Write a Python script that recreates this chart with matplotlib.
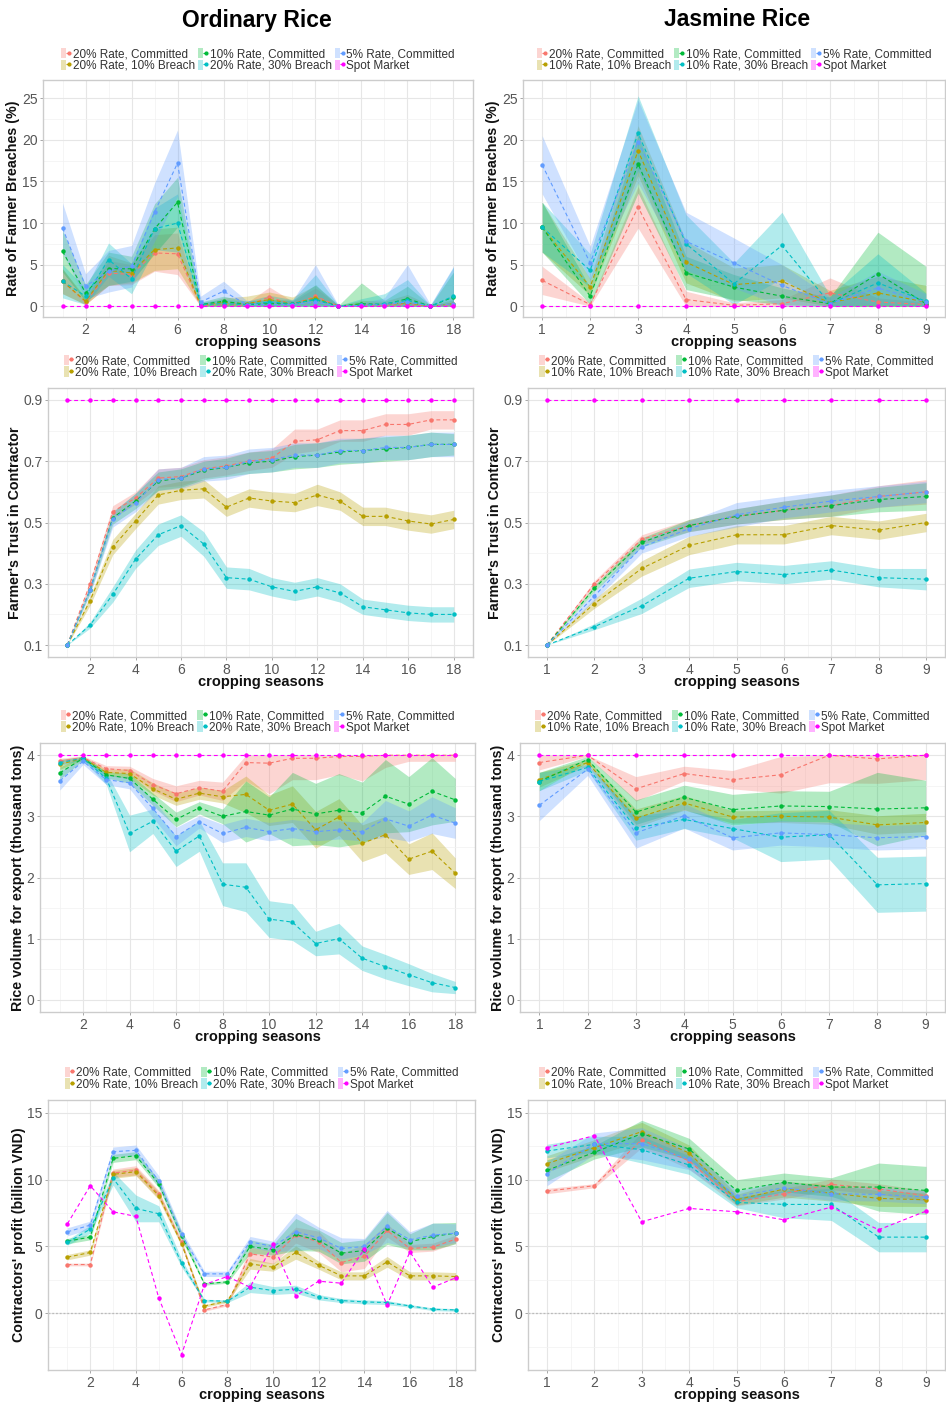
import numpy as np
import matplotlib
matplotlib.use("Agg")
import matplotlib.pyplot as plt
from matplotlib.patches import Patch
from matplotlib.lines import Line2D
from matplotlib.legend_handler import HandlerTuple

plt.rcParams['font.family'] = ['Liberation Sans', 'DejaVu Sans']

# seasons
seasons_ord = list(range(1, 19))
seasons_jas = list(range(1, 10))

# series (ggplot order: red, olive, green, cyan, blue, magenta)
labels_ord = ["20% Rate, Committed", "20% Rate, 10% Breach", "10% Rate, Committed",
              "20% Rate, 30% Breach", "5% Rate, Committed", "Spot Market"]
labels_jas = ["20% Rate, Committed", "10% Rate, 10% Breach", "10% Rate, Committed",
              "10% Rate, 30% Breach", "5% Rate, Committed", "Spot Market"]
colours = ["#F8766D", "#B79F00", "#00BA38", "#00BFC4", "#619CFF", "#FF00FF"]

# ---- Rate of farmer breaches (%) ----
breach_ord = [
    [3.0, 0.5, 4.0, 3.8, 6.4, 6.3, 0.1, 0.2, 0.1, 1.1, 0.2, 1.2, 0.0, 0.1, 0.1, 0.2, 0.0, 0.2],
    [3.0, 0.6, 4.3, 4.0, 6.8, 7.0, 0.1, 0.5, 0.3, 0.8, 0.3, 1.0, 0.0, 0.2, 0.2, 0.4, 0.0, 0.3],
    [6.6, 1.6, 4.5, 4.5, 9.3, 12.5, 0.2, 0.6, 0.2, 0.3, 0.3, 0.8, 0.0, 0.3, 0.2, 0.9, 0.0, 1.1],
    [3.0, 1.2, 5.6, 3.3, 9.3, 10.0, 0.2, 0.3, 0.2, 0.5, 0.3, 0.8, 0.0, 0.1, 0.3, 0.7, 0.0, 1.2],
    [9.4, 2.4, 4.2, 4.8, 11.3, 17.2, 0.5, 1.8, 0.2, 0.2, 0.2, 0.5, 0.0, 0.1, 0.2, 0.5, 0.0, 0.3],
    [0.0] * 18,
]
breach_ord_sd = [
    [1.5, 0.3, 1.5, 1.2, 2.2, 2.5, 0.2, 0.3, 0.3, 1.2, 0.4, 1.0, 0.1, 0.3, 0.3, 0.4, 0.1, 0.3],
    [1.5, 0.4, 1.8, 1.2, 2.5, 2.5, 0.2, 0.5, 0.9, 0.9, 0.8, 1.5, 0.1, 0.5, 0.4, 1.0, 0.1, 0.5],
    [2.5, 1.0, 2.0, 1.5, 3.0, 3.0, 0.3, 0.6, 0.4, 0.5, 0.4, 1.8, 0.1, 2.5, 0.5, 1.5, 0.1, 3.0],
    [2.0, 1.0, 2.0, 1.8, 2.5, 3.5, 0.3, 0.5, 0.4, 0.8, 0.5, 3.0, 0.1, 0.8, 1.2, 2.5, 0.1, 3.5],
    [3.0, 1.5, 2.5, 2.5, 3.5, 4.0, 0.7, 1.2, 0.5, 0.5, 0.5, 4.5, 0.1, 0.3, 0.8, 4.5, 0.2, 4.5],
    [0.0] * 18,
]
breach_jas = [
    [3.1, 0.2, 11.9, 0.8, 0.1, 0.3, 1.6, 0.5, 0.2],
    [9.5, 2.3, 18.7, 5.3, 2.6, 3.0, 0.4, 1.6, 0.5],
    [9.5, 1.2, 17.1, 4.0, 2.3, 1.2, 0.3, 3.9, 0.3],
    [9.5, 4.3, 20.8, 7.5, 2.7, 7.3, 0.3, 2.8, 0.6],
    [17.0, 5.2, 19.8, 7.8, 5.2, 2.5, 0.3, 2.2, 0.5],
    [0.0] * 9,
]
breach_jas_sd = [
    [1.7, 0.2, 2.5, 1.0, 0.3, 0.5, 1.8, 0.5, 0.3],
    [3.0, 1.0, 3.0, 2.5, 2.0, 2.0, 1.5, 2.0, 2.0],
    [3.0, 1.0, 3.5, 2.0, 1.5, 1.0, 0.8, 5.0, 4.5],
    [3.0, 2.0, 4.5, 3.5, 2.5, 4.0, 1.0, 3.5, 1.0],
    [3.5, 2.0, 5.0, 3.5, 3.0, 2.5, 0.8, 2.0, 1.0],
    [0.0] * 9,
]

# ---- Farmer's trust in contractor ----
trust_ord = [
    [0.1, 0.30, 0.535, 0.58, 0.645, 0.65, 0.675, 0.685, 0.70, 0.71, 0.765, 0.77, 0.80, 0.80, 0.82, 0.82, 0.835, 0.835],
    [0.1, 0.245, 0.42, 0.505, 0.59, 0.605, 0.61, 0.55, 0.58, 0.57, 0.565, 0.59, 0.57, 0.52, 0.52, 0.505, 0.495, 0.51],
    [0.1, 0.28, 0.515, 0.57, 0.635, 0.645, 0.67, 0.68, 0.695, 0.70, 0.715, 0.72, 0.73, 0.735, 0.74, 0.745, 0.755, 0.755],
    [0.1, 0.165, 0.265, 0.38, 0.46, 0.49, 0.43, 0.32, 0.315, 0.29, 0.275, 0.29, 0.27, 0.225, 0.215, 0.205, 0.20, 0.20],
    [0.1, 0.28, 0.51, 0.565, 0.64, 0.645, 0.675, 0.68, 0.70, 0.705, 0.72, 0.72, 0.735, 0.735, 0.745, 0.745, 0.755, 0.755],
    [0.9] * 18,
]
trust_ord_sd = [
    [0.0, 0.01, 0.02, 0.02, 0.03, 0.03, 0.03, 0.03, 0.03, 0.03, 0.04, 0.035, 0.035, 0.035, 0.035, 0.035, 0.03, 0.03],
    [0.0, 0.015, 0.025, 0.025, 0.03, 0.03, 0.03, 0.03, 0.03, 0.03, 0.03, 0.035, 0.03, 0.03, 0.03, 0.03, 0.03, 0.03],
    [0.0, 0.01, 0.02, 0.025, 0.03, 0.03, 0.03, 0.03, 0.035, 0.035, 0.04, 0.04, 0.04, 0.04, 0.04, 0.04, 0.04, 0.035],
    [0.0, 0.01, 0.025, 0.03, 0.035, 0.035, 0.04, 0.035, 0.035, 0.03, 0.03, 0.03, 0.03, 0.025, 0.025, 0.025, 0.025, 0.025],
    [0.0, 0.015, 0.025, 0.03, 0.035, 0.035, 0.04, 0.04, 0.04, 0.04, 0.04, 0.04, 0.04, 0.04, 0.04, 0.04, 0.04, 0.04],
    [0.0] * 18,
]
trust_jas = [
    [0.1, 0.30, 0.445, 0.49, 0.52, 0.54, 0.555, 0.585, 0.60],
    [0.1, 0.235, 0.35, 0.425, 0.46, 0.46, 0.49, 0.475, 0.50],
    [0.1, 0.285, 0.435, 0.49, 0.52, 0.54, 0.555, 0.575, 0.585],
    [0.1, 0.16, 0.228, 0.318, 0.34, 0.33, 0.345, 0.32, 0.315],
    [0.1, 0.26, 0.42, 0.48, 0.525, 0.55, 0.57, 0.585, 0.60],
    [0.9] * 9,
]
trust_jas_sd = [
    [0.0, 0.01, 0.015, 0.02, 0.025, 0.03, 0.035, 0.035, 0.04],
    [0.0, 0.015, 0.025, 0.03, 0.03, 0.03, 0.03, 0.03, 0.03],
    [0.0, 0.01, 0.015, 0.02, 0.025, 0.03, 0.035, 0.04, 0.045],
    [0.0, 0.01, 0.025, 0.03, 0.03, 0.03, 0.03, 0.03, 0.035],
    [0.0, 0.015, 0.02, 0.025, 0.04, 0.035, 0.035, 0.035, 0.035],
    [0.0] * 9,
]

# ---- Rice volume for export (thousand tons) ----
export_ord = [
    [3.9, 3.96, 3.78, 3.75, 3.52, 3.37, 3.47, 3.41, 3.88, 3.87, 3.95, 3.95, 3.98, 3.98, 4.0, 4.0, 4.0, 4.0],
    [3.85, 3.95, 3.72, 3.70, 3.45, 3.28, 3.38, 3.32, 3.36, 3.10, 3.20, 2.78, 2.99, 2.56, 2.70, 2.30, 2.43, 2.07],
    [3.71, 3.95, 3.68, 3.62, 3.28, 2.95, 3.14, 3.00, 3.08, 3.02, 3.12, 3.04, 3.10, 3.06, 3.33, 3.20, 3.41, 3.27],
    [3.88, 3.95, 3.62, 2.72, 2.92, 2.43, 2.68, 1.89, 1.84, 1.32, 1.27, 0.92, 1.00, 0.68, 0.54, 0.41, 0.28, 0.20],
    [3.58, 3.90, 3.60, 3.55, 3.13, 2.67, 2.91, 2.72, 2.82, 2.75, 2.80, 2.75, 2.78, 2.75, 2.96, 2.84, 3.02, 2.89],
    [4.0] * 18,
]
export_ord_sd = [
    [0.05, 0.03, 0.05, 0.07, 0.1, 0.13, 0.12, 0.15, 0.3, 0.5, 0.35, 0.35, 0.3, 0.4, 0.2, 0.1, 0.1, 0.1],
    [0.08, 0.03, 0.05, 0.08, 0.1, 0.1, 0.1, 0.1, 0.3, 0.25, 0.3, 0.3, 0.3, 0.3, 0.3, 0.25, 0.3, 0.25],
    [0.1, 0.03, 0.05, 0.08, 0.1, 0.12, 0.1, 0.12, 0.5, 0.3, 0.6, 0.5, 0.6, 0.5, 0.6, 0.45, 0.55, 0.35],
    [0.05, 0.03, 0.1, 0.3, 0.2, 0.25, 0.25, 0.35, 0.4, 0.3, 0.3, 0.2, 0.25, 0.2, 0.2, 0.18, 0.15, 0.1],
    [0.15, 0.05, 0.08, 0.1, 0.15, 0.15, 0.1, 0.15, 0.15, 0.15, 0.15, 0.15, 0.15, 0.15, 0.3, 0.25, 0.3, 0.25],
    [0.0] * 18,
]
export_jas = [
    [3.88, 4.0, 3.45, 3.70, 3.60, 3.68, 4.0, 3.94, 4.0],
    [3.60, 3.88, 2.97, 3.22, 2.99, 3.00, 2.99, 2.86, 2.90],
    [3.57, 3.93, 3.07, 3.31, 3.11, 3.17, 3.16, 3.12, 3.14],
    [3.57, 3.80, 2.81, 2.95, 2.80, 2.66, 2.70, 1.88, 1.90],
    [3.18, 3.77, 2.73, 3.01, 2.65, 2.73, 2.70, 2.65, 2.67],
    [4.0] * 9,
]
export_jas_sd = [
    [0.12, 0.02, 0.2, 0.12, 0.15, 0.3, 0.45, 0.4, 0.4],
    [0.12, 0.05, 0.15, 0.12, 0.1, 0.1, 0.12, 0.15, 0.15],
    [0.15, 0.05, 0.2, 0.2, 0.25, 0.25, 0.25, 0.6, 0.45],
    [0.15, 0.05, 0.2, 0.15, 0.15, 0.4, 0.4, 0.45, 0.45],
    [0.25, 0.1, 0.25, 0.2, 0.2, 0.2, 0.2, 0.2, 0.2],
    [0.0] * 9,
]

# ---- Contractors' profit (billion VND) ----
profit_ord = [
    [3.65, 3.65, 10.5, 10.7, 8.9, 5.3, 0.25, 0.65, 4.45, 4.2, 5.85, 5.35, 3.8, 4.25, 6.2, 4.85, 4.95, 5.55],
    [4.2, 4.55, 10.4, 10.6, 8.8, 5.2, 0.55, 0.9, 3.7, 3.45, 4.55, 3.6, 2.8, 2.8, 3.85, 2.8, 2.8, 2.75],
    [5.4, 5.7, 11.6, 11.8, 9.7, 5.8, 2.2, 2.35, 5.0, 4.75, 5.9, 5.45, 4.5, 4.7, 6.35, 5.35, 5.75, 6.0],
    [5.3, 6.3, 10.1, 7.85, 7.45, 3.75, 0.95, 0.9, 1.95, 1.7, 1.8, 1.2, 0.95, 0.85, 0.8, 0.55, 0.3, 0.25],
    [6.1, 6.6, 12.1, 12.2, 9.9, 5.9, 2.95, 2.95, 5.35, 5.0, 6.1, 5.65, 4.85, 5.0, 6.5, 5.5, 5.85, 6.0],
    [6.7, 9.55, 7.6, 7.25, 1.15, -3.1, 2.15, 2.75, 1.95, 5.15, 1.3, 2.4, 2.25, 4.8, 0.6, 4.6, 1.95, 2.65],
]
profit_ord_sd = [
    [0.1, 0.1, 0.3, 0.35, 0.3, 0.2, 0.1, 0.1, 0.5, 0.5, 0.6, 0.8, 0.7, 0.9, 0.5, 0.3, 0.3, 0.3],
    [0.2, 0.2, 0.3, 0.3, 0.3, 0.2, 0.1, 0.1, 0.4, 0.3, 0.5, 0.3, 0.3, 0.3, 0.4, 0.3, 0.3, 0.3],
    [0.2, 0.2, 0.3, 0.3, 0.3, 0.3, 0.1, 0.1, 0.5, 0.4, 1.2, 0.8, 0.8, 0.8, 1.2, 0.6, 1.0, 0.8],
    [0.2, 0.3, 0.5, 1.0, 0.6, 0.3, 0.1, 0.1, 0.4, 0.3, 0.3, 0.2, 0.15, 0.15, 0.15, 0.1, 0.1, 0.1],
    [0.3, 0.3, 0.35, 0.4, 0.4, 0.3, 0.2, 0.2, 0.4, 0.4, 1.4, 0.8, 0.8, 0.6, 1.2, 0.6, 0.9, 0.7],
    [0.0] * 18,
]
profit_jas = [
    [9.15, 9.55, 13.0, 11.4, 8.35, 8.95, 9.65, 9.3, 8.8],
    [11.2, 12.4, 13.6, 12.0, 8.5, 9.3, 9.0, 8.6, 8.5],
    [10.7, 12.05, 13.45, 12.3, 9.2, 9.8, 9.45, 9.45, 9.2],
    [12.15, 12.65, 12.25, 11.1, 8.3, 8.15, 8.15, 5.7, 5.7],
    [10.45, 12.7, 12.7, 11.55, 8.75, 9.4, 8.95, 8.9, 8.7],
    [12.4, 13.3, 6.85, 7.85, 7.6, 7.0, 7.95, 6.25, 7.65],
]
profit_jas_sd = [
    [0.2, 0.15, 0.6, 0.6, 0.3, 0.4, 0.4, 0.4, 0.4],
    [0.6, 0.6, 0.7, 0.6, 0.4, 0.6, 0.6, 0.6, 0.5],
    [0.8, 0.5, 1.0, 0.8, 0.8, 0.7, 0.7, 1.8, 1.8],
    [0.5, 0.6, 1.0, 0.7, 0.4, 1.0, 1.2, 1.1, 1.1],
    [0.9, 0.8, 1.2, 0.8, 0.4, 0.5, 0.5, 0.5, 0.5],
    [0.0] * 9,
]

W, H = 946, 1402
fig = plt.figure(figsize=(W / 100, H / 100), dpi=100)


def add_ax(l, t, r, b):
    return fig.add_axes([l / W, 1 - b / H, (r - l) / W, (b - t) / H])


def draw(ax, x, means, sds, labels, ylabel, ylim, yticks, yminor, bounds=None, zero=False):
    x = np.array(x)
    if zero:
        ax.axhline(0, color="#BBBBBB", lw=0.9, ls=(0, (1.5, 1.5)), zorder=1)
    for m, s, c in zip(means, sds, colours):
        m, s = np.array(m), np.array(s)
        lo, hi = m - s, m + s
        if bounds is not None:
            lo, hi = np.clip(lo, *bounds), np.clip(hi, *bounds)
        ax.fill_between(x, lo, hi, color=c, alpha=0.3, lw=0, zorder=2)
    for m, c in zip(means, colours):
        ax.plot(x, m, color=c, lw=0.8, ls=(0, (3.5, 2.5)), marker="o", ms=2.2, zorder=3)

    if len(x) > 10:
        ax.set_xlim(0.15, 18.85)
        ax.set_xticks(range(2, 19, 2))
        ax.set_xticks(range(1, 19, 2), minor=True)
    else:
        ax.set_xlim(0.6, 9.4)
        ax.set_xticks(range(1, 10))
        ax.set_xticks(np.arange(1.5, 9, 1), minor=True)
    ax.set_ylim(*ylim)
    ax.set_yticks(yticks)
    ax.set_yticks(yminor, minor=True)
    ax.grid(which="major", color="#E6E6E6", lw=0.8)
    ax.grid(which="minor", color="#F2F2F2", lw=0.5)
    ax.set_axisbelow(True)
    for sp in ax.spines.values():
        sp.set_color("#CCCCCC")
        sp.set_linewidth(1.0)
    ax.tick_params(which="major", length=2.5, width=0.6, color="#999999",
                   labelsize=10, labelcolor="#555555", pad=1.5)
    ax.tick_params(which="minor", length=0)
    ax.set_xlabel("cropping seasons", fontsize=10.5, fontweight="bold", labelpad=-1, color="#111111")
    ax.set_ylabel(ylabel, fontsize=10.3, fontweight="bold", labelpad=1, color="#111111")

    handles = [(Patch(facecolor=c, alpha=0.3, lw=0),
                Line2D([], [], color=c, lw=0.8, ls="--", marker="o", ms=2)) for c in colours]
    ax.legend(handles, labels, ncol=3, loc="lower center", bbox_to_anchor=(0.5, 1.035),
              frameon=False, fontsize=8.5, handlelength=0.9, handleheight=0.95,
              handletextpad=0.1, columnspacing=0.25, labelspacing=-0.05, borderpad=0,
              borderaxespad=0, labelcolor="#333333",
              handler_map={tuple: HandlerTuple(ndivide=None, pad=0)})


rows = [
    (breach_ord, breach_ord_sd, breach_jas, breach_jas_sd, "Rate of Farmer Breaches (%)",
     (-1.3, 27.2), [0, 5, 10, 15, 20, 25], [2.5, 7.5, 12.5, 17.5, 22.5], (0, 100), False,
     [(43, 80, 473, 317), (523, 80, 945, 317)]),
    (trust_ord, trust_ord_sd, trust_jas, trust_jas_sd, "Farmer's Trust in Contractor",
     (0.061, 0.939), [0.1, 0.3, 0.5, 0.7, 0.9], [0.2, 0.4, 0.6, 0.8], None, False,
     [(48, 388, 473, 657), (528, 388, 945, 657)]),
    (export_ord, export_ord_sd, export_jas, export_jas_sd, "Rice volume for export (thousand tons)",
     (-0.2, 4.2), [0, 1, 2, 3, 4], [0.5, 1.5, 2.5, 3.5], (0, 4), False,
     [(40, 743, 475, 1012), (520, 743, 945, 1012)]),
    (profit_ord, profit_ord_sd, profit_jas, profit_jas_sd, "Contractors' profit (billion VND)",
     (-4.25, 15.97), [0, 5, 10, 15], [-2.5, 2.5, 7.5, 12.5], None, True,
     [(48, 1100, 475, 1370), (528, 1100, 945, 1370)]),
]

for m_o, s_o, m_j, s_j, ylab, ylim, yt, ym, bnd, zero, boxes in rows:
    ax_l = add_ax(*boxes[0])
    draw(ax_l, seasons_ord, m_o, s_o, labels_ord, ylab, ylim, yt, ym, bnd, zero)
    ax_r = add_ax(*boxes[1])
    draw(ax_r, seasons_jas, m_j, s_j, labels_jas, ylab, ylim, yt, ym, bnd, zero)

fig.text(257 / W, 1 - 20 / H, "Ordinary Rice", ha="center", va="center", fontsize=16.5, fontweight="bold")
fig.text(737 / W, 1 - 20 / H, "Jasmine Rice", ha="center", va="center", fontsize=16.5, fontweight="bold")

fig.savefig("out.png", dpi=100, facecolor="white")
